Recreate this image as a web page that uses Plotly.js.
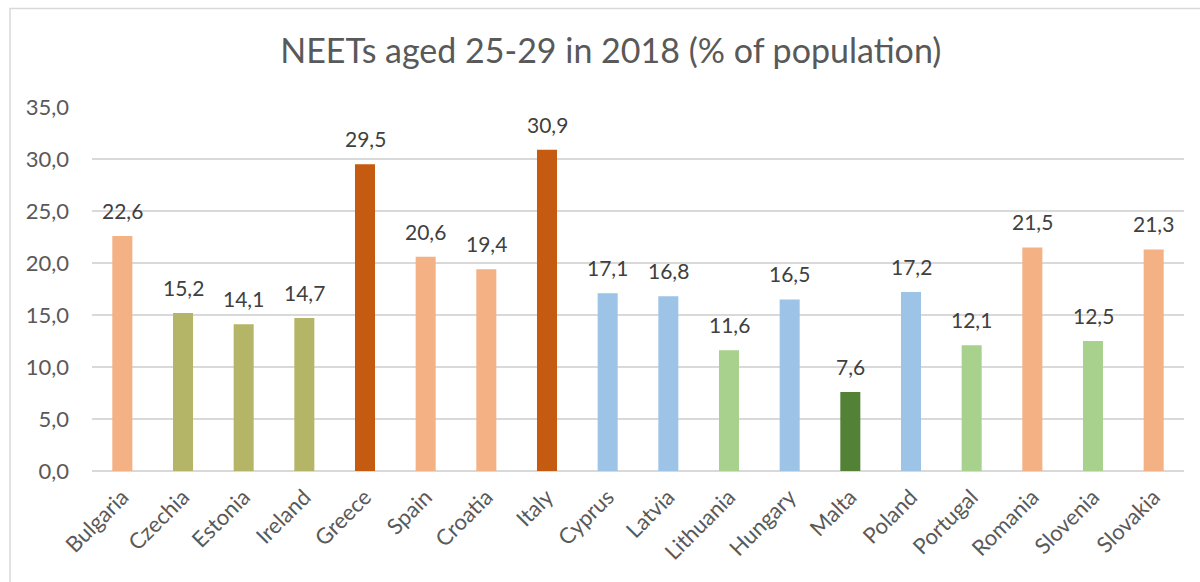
<!DOCTYPE html>
<html>
<head>
<meta charset="utf-8">
<script src="https://cdn.plot.ly/plotly-3.0.1.min.js"></script>
<style>html,body{margin:0;padding:0;background:#fff;overflow:hidden}</style>
</head>
<body>
<div id="chart" style="width:1200px;height:582px"></div>
<script>
const countries = ["Bulgaria","Czechia","Estonia","Ireland","Greece","Spain","Croatia","Italy","Cyprus","Latvia","Lithuania","Hungary","Malta","Poland","Portugal","Romania","Slovenia","Slovakia"];
const neetShare = [22.6,15.2,14.1,14.7,29.5,20.6,19.4,30.9,17.1,16.8,11.6,16.5,7.6,17.2,12.1,21.5,12.5,21.3];
const barColors = ["#F4B183","#B4B566","#B4B566","#B4B566","#C55A11","#F4B183","#F4B183","#C55A11","#9DC3E6","#9DC3E6","#A9D18E","#9DC3E6","#538135","#9DC3E6","#A9D18E","#F4B183","#A9D18E","#F4B183"];
const yTicks = [0,5,10,15,20,25,30,35];

const FONT = "Lato, 'Open Sans', sans-serif";
const L = 92, R = 16, T = 107, B = 111, W = 1200, H = 582;
const pw = W - L - R, ph = H - T - B;

const fmt = v => v.toFixed(1).replace(".", ",");
const labels = countries.map((c, i) => ({
  x: c, y: neetShare[i], xref: "x", yref: "y",
  text: fmt(neetShare[i]), showarrow: false,
  yanchor: "bottom", yshift: 11,
  font: {family: FONT, size: 21, color: "#404040"}
}));

Plotly.newPlot("chart", [{
  type: "bar",
  x: countries,
  y: neetShare,
  marker: {color: barColors},
  hoverinfo: "x+y"
}], {
  width: W, height: H,
  margin: {l: L, r: R, t: T, b: B, pad: 0},
  separators: ",.",
  paper_bgcolor: "#fff",
  plot_bgcolor: "#fff",
  bargap: 0.67,
  showlegend: false,
  annotations: labels,
  title: {
    text: "NEETs aged 25-29 in 2018 (% of population)",
    font: {family: FONT, size: 34, color: "#595959"},
    x: 0.509, xref: "container", xanchor: "center",
    y: 1 - 51 / H, yref: "container", yanchor: "middle"
  },
  xaxis: {
    type: "category",
    tickangle: -45,
    tickfont: {family: FONT, size: 22, color: "#595959"},
    showgrid: false, zeroline: false,
    showline: false, ticks: "", ticklabelstandoff: 8
  },
  yaxis: {
    range: [0, 35],
    tickvals: yTicks,
    tickformat: ".1f",
    tickfont: {family: FONT, size: 22, color: "#595959"},
    gridcolor: "#D9D9D9", gridwidth: 1.5,
    zeroline: true, zerolinecolor: "#D9D9D9", zerolinewidth: 1.5,
    showline: false, ticks: "", ticklabelstandoff: 22
  },
  shapes: [{
    type: "rect", xref: "paper", yref: "paper",
    x0: (10 - L) / pw, x1: (W + 20 - L) / pw,
    y0: -(B + 20) / ph, y1: (H - B - 8.5) / ph,
    line: {color: "#D9D9D9", width: 1.5}, fillcolor: "rgba(0,0,0,0)", layer: "below"
  }]
}, {displayModeBar: false, staticPlot: true});
</script>
</body>
</html>
